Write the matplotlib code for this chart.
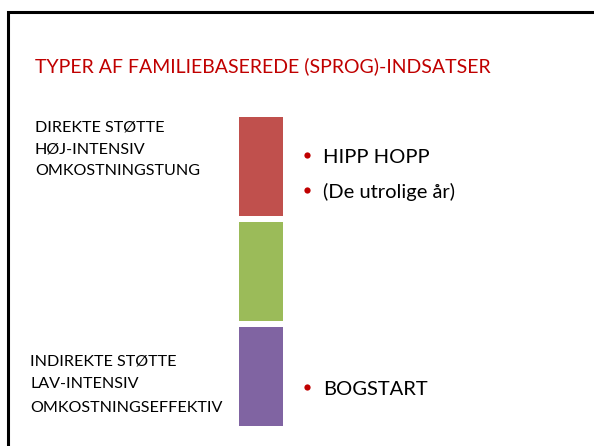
import matplotlib
matplotlib.use("Agg")
import matplotlib.pyplot as plt

# slide content
title = "TYPER AF FAMILIEBASEREDE (SPROG)-INDSATSER"
top_labels = ["DIREKTE STØTTE", "HØJ-INTENSIV", "OMKOSTNINGSTUNG"]
bottom_labels = ["INDIREKTE STØTTE", "LAV-INTENSIV", "OMKOSTNINGSEFFEKTIV"]
top_bullets = ["HIPP HOPP", "(De utrolige år)"]
bottom_bullets = ["BOGSTART"]
block_sizes = [1, 1, 1]
block_colors = ["#C0504D", "#9BBB59", "#8064A2"]

plt.rcParams['font.family'] = ['Lato', 'DejaVu Sans']

W, H = 594, 446
fig = plt.figure(figsize=(W / 100, H / 100), dpi=100)
ax = fig.add_axes([0, 0, 1, 1])
ax.set_xlim(0, W)
ax.set_ylim(H, 0)
ax.axis("off")

# slide frame (left + top edge)
ax.plot([7.5, 7.5, W + 5], [H + 5, 11.5, 11.5], color="black", lw=2.2,
        solid_joinstyle="miter", clip_on=False)

ax.text(35, 72, title, color="#C00000", fontsize=14, va="baseline", ha="left")

# stacked blocks
y0, unit, gap = 117, 99, 6
bottom = y0
for size, c in zip(block_sizes, block_colors):
    h = size * unit
    ax.bar(261, h, width=44, bottom=bottom, color=c, edgecolor="none")
    bottom += h + gap


def label_block(lines, x, y, dy):
    for i, s in enumerate(lines):
        ax.text(x, y + i * dy, s, fontsize=11.6, va="baseline", ha="left", color="black")


label_block(top_labels, 35, 131, 22)
label_block(bottom_labels, 30, 365, 23.5)


def bullets(items, y, dy):
    for i, s in enumerate(items):
        yy = y + i * dy
        ax.plot(307, yy - 8, "o", color="#C00000", ms=4.5, mec="none")
        ax.text(323, yy, s, fontsize=14.5, va="baseline", ha="left", color="black")


bullets(top_bullets, 163, 35)
bullets(bottom_bullets, 395, 0)

fig.savefig("out.png", dpi=100, facecolor="white")
